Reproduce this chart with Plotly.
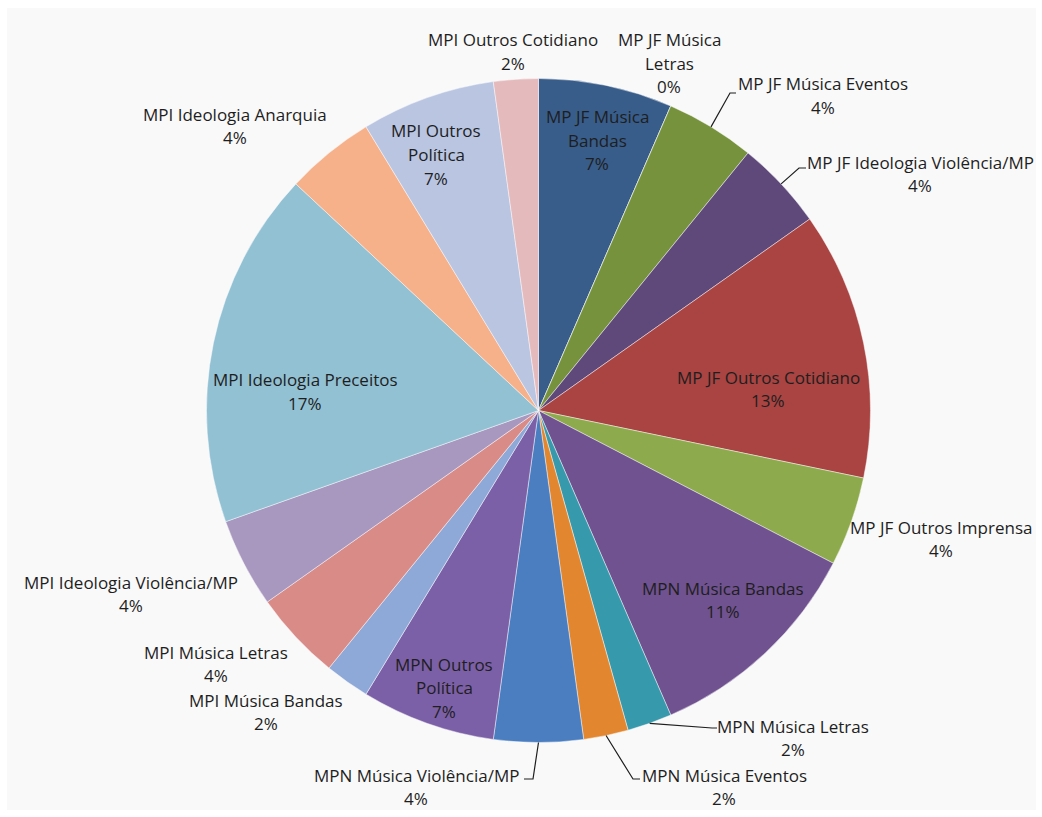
import math
import plotly.graph_objects as go

# ---------------- data ----------------
categories = [
    "MP JF Música Bandas",
    "MP JF Música Letras",
    "MP JF Música Eventos",
    "MP JF Ideologia Violência/MP",
    "MP JF Outros Cotidiano",
    "MP JF Outros Imprensa",
    "MPN Música Bandas",
    "MPN Música Letras",
    "MPN Música Eventos",
    "MPN Música Violência/MP",
    "MPN Outros Política",
    "MPI Música Bandas",
    "MPI Música Letras",
    "MPI Ideologia Violência/MP",
    "MPI Ideologia Preceitos",
    "MPI Ideologia Anarquia",
    "MPI Outros Política",
    "MPI Outros Cotidiano",
]
counts = [3, 0, 2, 2, 6, 2, 5, 1, 1, 2, 3, 1, 2, 2, 8, 2, 3, 1]

colors = [
    "#385D8A", "#A94442", "#76923C", "#5F497A", "#A94442", "#8DAA4C",
    "#6F528F", "#3799AC", "#E2862F", "#4A7EC0", "#7C60A7", "#8EA9D7",
    "#D98B88", "#A897BF", "#92C1D4", "#F6B18B", "#B9C5E1", "#E5BABD",
]

# label line breaks (text content) and label placement (layout, in px)
label_lines = {
    "MP JF Música Bandas": ["MP JF Música", "Bandas"],
    "MP JF Música Letras": ["MP JF Música", "Letras"],
    "MPN Outros Política": ["MPN Outros", "Política"],
    "MPI Outros Política": ["MPI Outros", "Política"],
}
# (center x, first line y)
label_pos = [
    (597, 117), (669, 40), (823, 84), (920, 162), (768, 377), (941, 527),
    (723, 588), (793, 726), (724, 775), (416, 775), (444, 664), (266, 700),
    (216, 652), (131, 582), (305, 380), (235, 114), (436, 131), (513, 40),
]
# leader lines: index -> (elbow point, end point)
leaders = {
    2: ((730, 93), (736, 93)),
    3: ((799, 168), (806, 168)),
    7: ((712, 728), (717, 728)),
    8: ((633, 779), (640, 779)),
    9: ((533, 779), (524, 779)),
}

# ---------------- layout ----------------
W, H = 1042, 817
CX, CY, R = 538.5, 410.5, 332
LINE = 23.5
FONT = dict(family="'Open Sans', Lato, sans-serif", size=17, color="#1E1E1E")


def px(x):
    return x / W


def py(y):
    return 1 - y / H


total = sum(counts)
pct = [f"{round(100 * c / total)}%" for c in counts]

fig = go.Figure()
fig.add_trace(go.Pie(
    labels=categories,
    values=counts,
    sort=False,
    direction="clockwise",
    rotation=0,
    marker=dict(colors=colors, line=dict(color="rgba(255,255,255,0.45)", width=1)),
    textinfo="none",
    hoverinfo="label+percent",
    showlegend=False,
    domain=dict(x=[px(CX - R), px(CX + R)], y=[py(CY + R), py(CY - R)]),
))

annotations = []
for i, name in enumerate(categories):
    lines = label_lines.get(name, [name]) + [pct[i]]
    cx, y0 = label_pos[i]
    for k, t in enumerate(lines):
        annotations.append(dict(
            x=px(cx), y=py(y0 + k * LINE), xref="paper", yref="paper",
            text=t, showarrow=False, xanchor="center", yanchor="middle",
            font=FONT,
        ))

shapes = [dict(type="rect", xref="paper", yref="paper",
               x0=px(7), x1=px(1036), y0=py(810), y1=py(8),
               fillcolor="#F9F9F9", line=dict(width=0), layer="below")]

cum = 0
starts = []
for c in counts:
    starts.append(cum)
    cum += c
for i, (elbow, end) in leaders.items():
    mid = (starts[i] + counts[i] / 2) / total * 2 * math.pi
    ax = CX + R * math.sin(mid)
    ay = CY - R * math.cos(mid)
    path = (f"M {px(ax)} {py(ay)} L {px(elbow[0])} {py(elbow[1])} "
            f"L {px(end[0])} {py(end[1])}")
    shapes.append(dict(type="path", xref="paper", yref="paper", path=path,
                       line=dict(color="#1E1E1E", width=1.2)))

fig.update_layout(
    width=W, height=H,
    margin=dict(l=0, r=0, t=0, b=0),
    paper_bgcolor="white",
    plot_bgcolor="white",
    annotations=annotations,
    shapes=shapes,
)

fig.write_html("out.html")
